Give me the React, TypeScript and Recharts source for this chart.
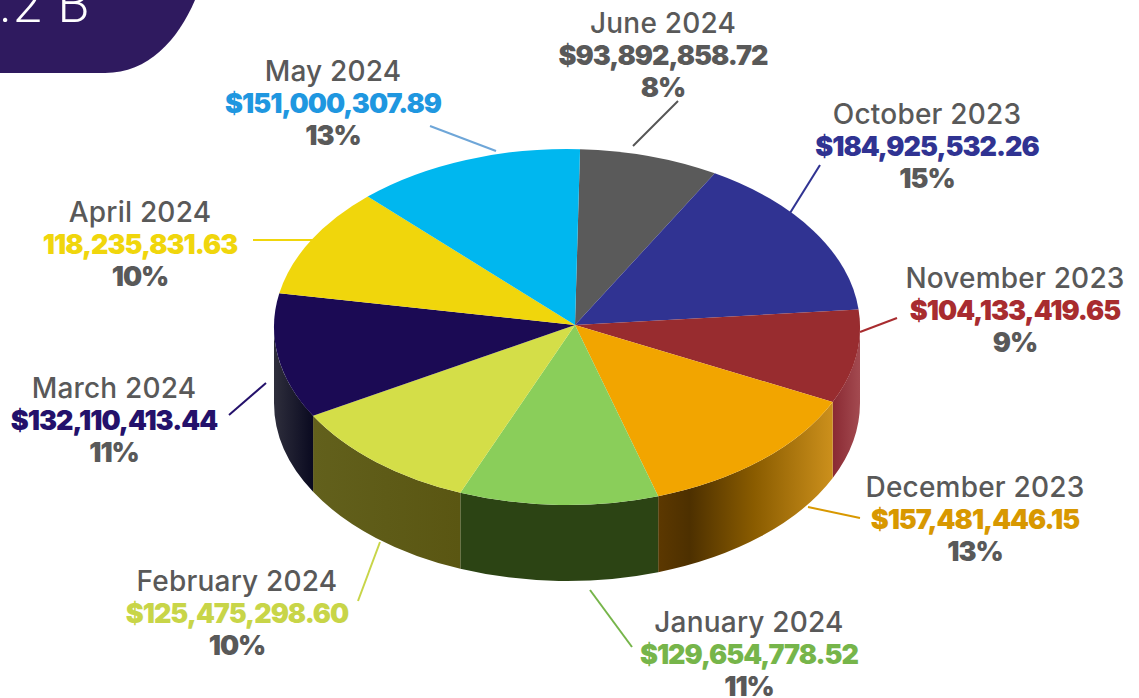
import React from 'react';
import { PieChart, Pie } from 'recharts';

const months = ['June 2024', 'October 2023', 'November 2023', 'December 2023', 'January 2024', 'February 2024', 'March 2024', 'April 2024', 'May 2024'];
const amounts = [93892858.72, 184925532.26, 104133419.65, 157481446.15, 129654778.52, 125475298.6, 132110413.44, 118235831.63, 151000307.89];
const amountLabels = ['$93,892,858.72', '$184,925,532.26', '$104,133,419.65', '$157,481,446.15', '$129,654,778.52', '$125,475,298.60', '$132,110,413.44', '118,235,831.63', '$151,000,307.89'];
const percents = ['8%', '15%', '9%', '13%', '11%', '10%', '11%', '10%', '13%'];

const topColors = ['#5a5a5a', '#303392', '#982c2f', '#f2a500', '#8ace5a', '#d4de48', '#1b0a54', '#f0d60c', '#00b7ef'];
const amountColors = ['#595959', '#303392', '#a82c2f', '#d89800', '#76b54a', '#c8d548', '#24116b', '#f0d60c', '#1f97e0'];
const lineColors = ['#555555', '#303392', '#a82c2f', '#d89800', '#76b54a', '#c8d548', '#24116b', '#f0d60c', '#6ea6d8'];

// side wall gradients, left to right [offset, colour]
const wallStops: Record<number, [string, string][]> = {
  2: [['0%', '#8a2a33'], ['100%', '#a34a50']],
  3: [['0%', '#5c3800'], ['18%', '#4d3000'], ['55%', '#8a5c00'], ['100%', '#cc901c']],
  4: [['0%', '#2c4414'], ['100%', '#2c4414']],
  5: [['0%', '#62601c'], ['100%', '#5a5612']],
  6: [['0%', '#2e2e3c'], ['100%', '#0a0a20']],
};

// label centre x, first baseline y
const labelPos = [[663, 33], [927, 124], [1015, 288], [975, 497], [749, 632], [237, 591], [114, 398], [140, 222], [333, 81]];
// leader line x1, y1, x2, y2
const leaders = [
  [678, 101, 633, 146], [820, 165, 790, 213], [897, 318, 860, 332], [808, 507, 860, 518], [590, 590, 632, 647],
  [380, 542, 358, 601], [266, 383, 229, 415], [253, 240, 316, 240], [430, 126, 496, 151],
];

const data = months.map((name, i) => ({ name, value: amounts[i], fill: topColors[i] }));

const RY_RATIO = 0.6075;
const DEPTH = 76;
// the slices meet off the ellipse centre, the original has some perspective
const VERTEX_DX = 8;
const VERTEX_DY = -2;
const RAD = Math.PI / 180;
const FONT = 'Inter, sans-serif';

const ThreeDSlice = (props: any) => {
  const { cx, cy, outerRadius, startAngle, endAngle, fill, index } = props;
  const rx = outerRadius;
  const ry = outerRadius * RY_RATIO;
  const ox = VERTEX_DX / rx;
  const oy = -VERTEX_DY / ry;

  // angle on the ellipse where the ray leaving the vertex at angle a hits the rim
  const rimAngle = (a: number) => {
    const dx = Math.cos(a * RAD);
    const dy = Math.sin(a * RAD);
    const b = ox * dx + oy * dy;
    const t = -b + Math.sqrt(b * b + 1 - ox * ox - oy * oy);
    const turn = Math.atan2(oy + t * dy, ox + t * dx) / RAD;
    return turn + 360 * Math.round((a - turn) / 360);
  };
  const pt = (a: number) => [cx + rx * Math.cos(a * RAD), cy - ry * Math.sin(a * RAD)];

  const from = rimAngle(startAngle);
  const to = rimAngle(endAngle);
  const [sx, sy] = pt(from);
  const [ex, ey] = pt(to);
  const large = Math.abs(from - to) > 180 ? 1 : 0;
  const top = `M${cx + VERTEX_DX},${cy + VERTEX_DY} L${sx},${sy} A${rx},${ry} 0 ${large} 1 ${ex},${ey} Z`;

  // only the part of the rim in the front half has a visible wall
  const a1 = Math.min(from, 0);
  const a2 = Math.max(to, -180);
  let wall = null;
  if (a1 > a2) {
    const [x1, y1] = pt(a1);
    const [x2, y2] = pt(a2);
    wall = `M${x1},${y1} A${rx},${ry} 0 0 1 ${x2},${y2} L${x2},${y2 + DEPTH} A${rx},${ry} 0 0 0 ${x1},${y1 + DEPTH} Z`;
  }
  return (
    <g>
      {wall && <path d={wall} fill={`url(#wall${index})`} />}
      <path d={top} fill={fill} />
    </g>
  );
};

const renderLabel = (props: any) => {
  const i = props.index;
  const [x, y] = labelPos[i];
  const [x1, y1, x2, y2] = leaders[i];
  return (
    <g key={i} fontFamily={FONT}>
      <line x1={x1} y1={y1} x2={x2} y2={y2} stroke={lineColors[i]} strokeWidth={2} />
      <text x={x} y={y} textAnchor="middle" fontSize={28} fontWeight={450} fill="#595959" letterSpacing={0.2}>{months[i]}</text>
      <text x={x} y={y + 32} textAnchor="middle" fontSize={27} fontWeight={900} fill={amountColors[i]} letterSpacing={-1}>{amountLabels[i]}</text>
      <text x={x} y={y + 64} textAnchor="middle" fontSize={27} fontWeight={900} fill="#595959" letterSpacing={-1}>{percents[i]}</text>
    </g>
  );
};

export default function App() {
  return (
    <div style={{ position: 'absolute', left: 0, top: 0, width: 1139, height: 698, background: '#fff', overflow: 'hidden' }}>
      <PieChart width={1139} height={698} margin={{ top: 0, right: 0, bottom: 0, left: 0 }}>
        <defs>
          {Object.keys(wallStops).map((k) => (
            <linearGradient key={k} id={`wall${k}`} x1="0" y1="0" x2="1" y2="0">
              {wallStops[Number(k)].map(([offset, color]) => (
                <stop key={offset} offset={offset} stopColor={color} />
              ))}
            </linearGradient>
          ))}
        </defs>
        <path d="M0,0 L195,0 C178,40 148,73 105,73 L0,73 Z" fill="#2f1a5f" />
        <text x={91} y={22} textAnchor="end" fontFamily="Roboto, sans-serif" fontWeight={300} fontSize={52} letterSpacing={1.5} fill="#ffffff">$1.2 B</text>
        <Pie
          data={data}
          dataKey="value"
          nameKey="name"
          cx={567}
          cy={327}
          innerRadius={0}
          outerRadius={293}
          startAngle={89}
          endAngle={-271}
          stroke="none"
          shape={ThreeDSlice}
          label={renderLabel}
          labelLine={false}
          isAnimationActive={false}
        />
      </PieChart>
    </div>
  );
}
